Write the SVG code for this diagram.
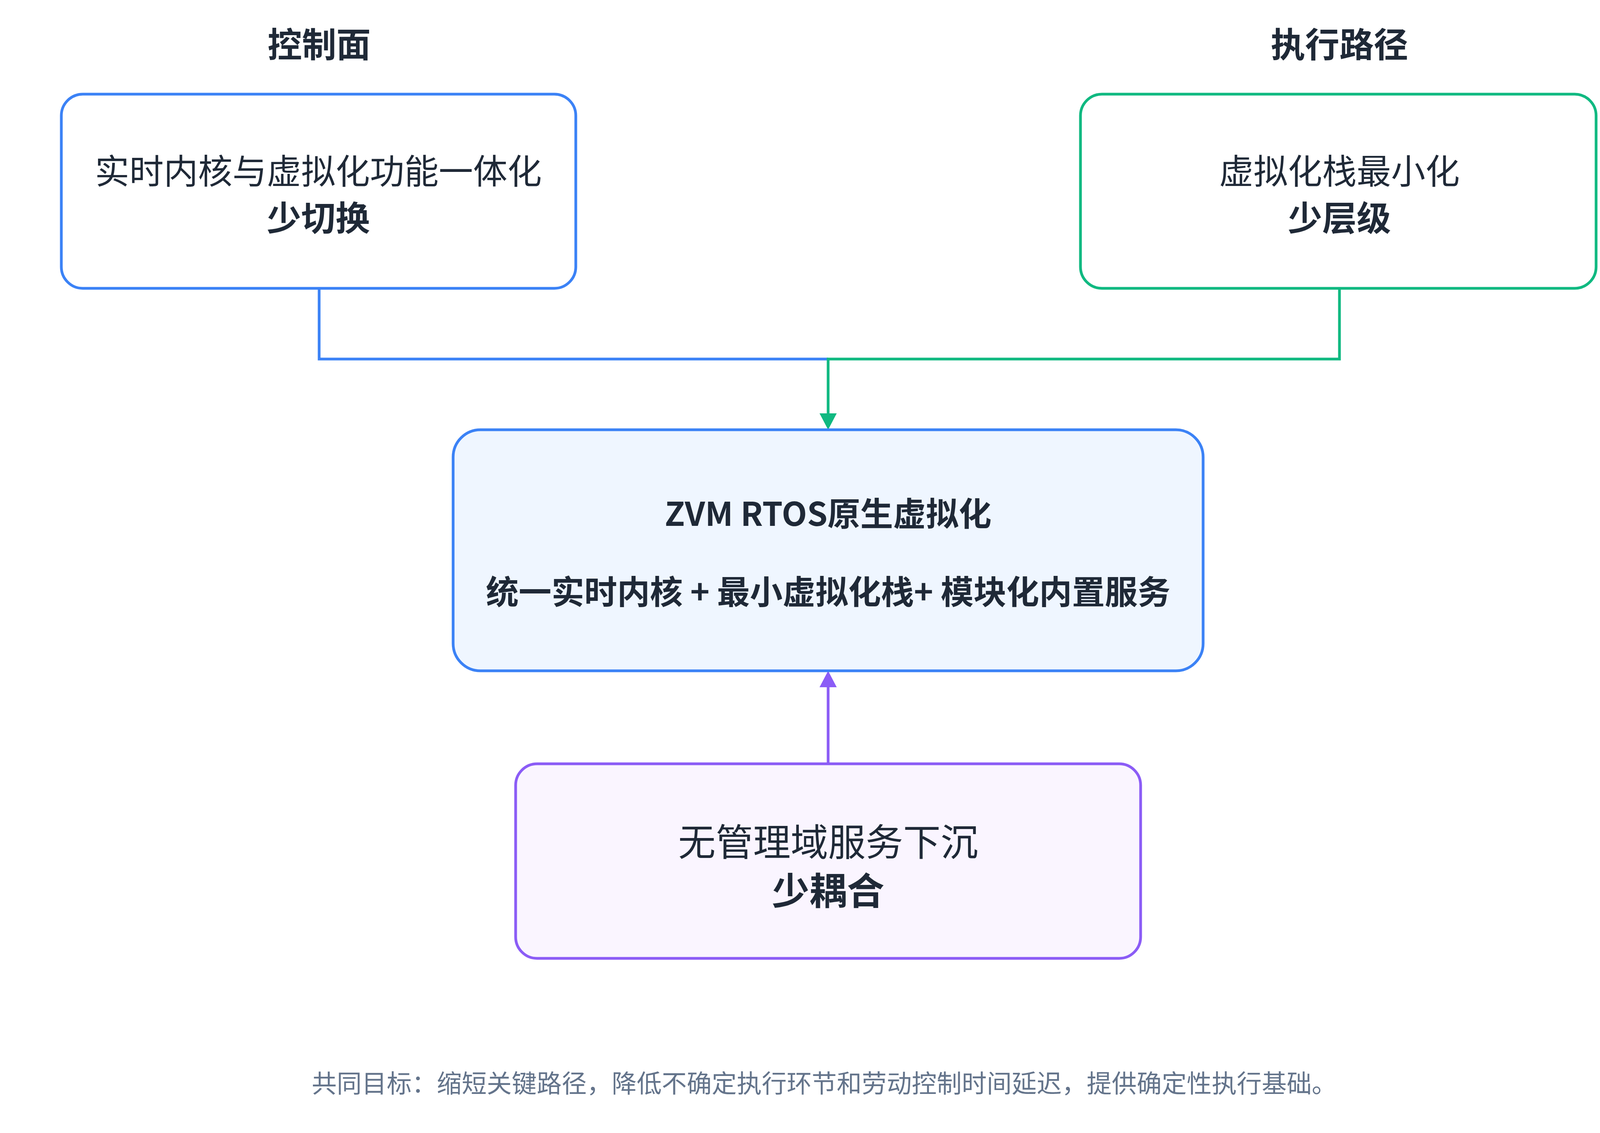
<svg xmlns="http://www.w3.org/2000/svg" width="4240" height="2900" viewBox="0 0 4240 2900">
<style>
text{font-family:"Noto Sans CJK SC","Noto Sans",sans-serif;fill:#1f2937;text-anchor:middle}
.b{font-weight:700}
.box{stroke-width:7}
.c{fill:none;stroke-width:7}
</style>
<rect width="4240" height="2900" fill="#fff"/>
<text x="817" y="146" class="b" font-size="88">控制面</text>
<text x="3429" y="146" class="b" font-size="88">执行路径</text>
<g id="connectors">
<path class="c" stroke="#3b82f6" d="M817,738V919H2120"/>
<path class="c" stroke="#10b981" d="M3429,738V919H2120V1062"/>
<path d="M2098,1058L2120,1100L2142,1058z" fill="#10b981"/>
<path class="c" stroke="#8b5cf6" d="M2120,1955V1755"/>
<path d="M2098,1759L2120,1717L2142,1759z" fill="#8b5cf6"/>
</g>
<g id="left">
<rect class="box" x="157" y="241" width="1317" height="497" rx="55" fill="#fff" stroke="#3b82f6"/>
<text x="815" y="470" font-size="88">实时内核与虚拟化功能一体化</text>
<text x="815" y="590" class="b" font-size="88">少切换</text>
</g>
<g id="right">
<rect class="box" x="2766" y="241" width="1320" height="497" rx="55" fill="#fff" stroke="#10b981"/>
<text x="3429" y="470" font-size="88">虚拟化栈最小化</text>
<text x="3429" y="590" class="b" font-size="88">少层级</text>
</g>
<g id="center">
<rect class="box" x="1160" y="1100" width="1920" height="617" rx="70" fill="#eff6ff" stroke="#3b82f6"/>
<text x="2120" y="1346" class="b" font-size="84">ZVM RTOS原生虚拟化</text>
<text x="2120" y="1546" class="b" font-size="84">统一实时内核 + 最小虚拟化栈+ 模块化内置服务</text>
</g>
<g id="bottom">
<rect class="box" x="1320" y="1955" width="1600" height="498" rx="55" fill="#faf5ff" stroke="#8b5cf6"/>
<text x="2120" y="2190" font-size="96">无管理域服务下沉</text>
<text x="2120" y="2315" class="b" font-size="96">少耦合</text>
</g>
<text x="2110" y="2796" font-size="64" style="fill:#64748b">共同目标：缩短关键路径，降低不确定执行环节和劳动控制时间延迟，提供确定性执行基础。</text>
</svg>
